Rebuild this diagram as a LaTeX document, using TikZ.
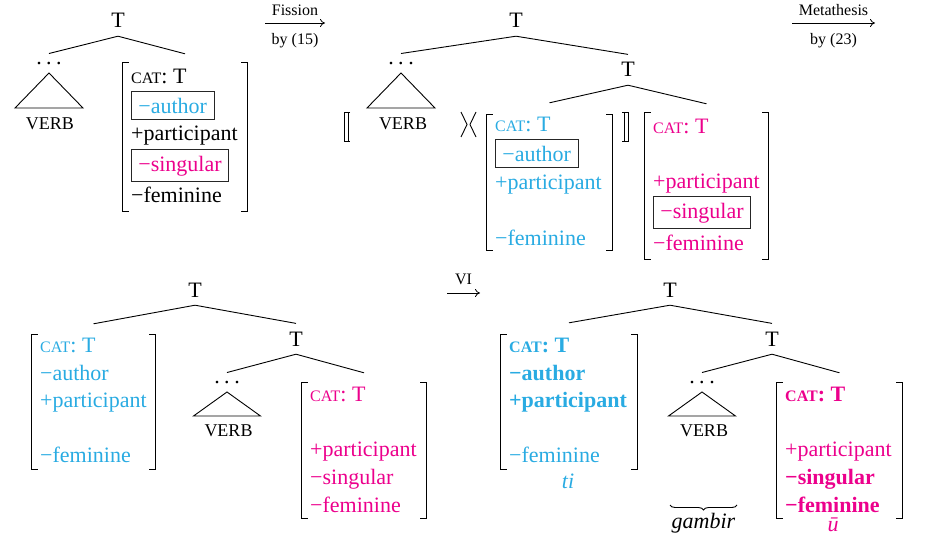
\documentclass[tikz,border=0pt]{standalone}
\usepackage{fontspec}
\setmainfont{Liberation Serif}
\usepackage{tikz}
\usetikzlibrary{arrows.meta,positioning,decorations.pathreplacing}
\definecolor{vblue}{RGB}{41,171,226}
\definecolor{vpink}{RGB}{236,0,140}
\newcommand{\bigfs}{\fontsize{22}{26}\selectfont}
\newcommand{\scfs}{\fontsize{16}{19}\selectfont}
\newcommand{\catT}{{\scfs CAT}: T}
\newcommand{\tdots}{.\kern4.5pt.\kern4.5pt.}

\begin{document}
\begin{tikzpicture}[
  x=1pt, y=-1pt,
  feat/.style={anchor=base west, inner sep=0pt, font=\bigfs},
  bfeat/.style={feat, text=vblue},
  pfeat/.style={feat, text=vpink},
  boxed/.style={draw=black!85, line width=0.8pt, inner xsep=7pt, inner ysep=6pt},
  tlabel/.style={anchor=base, inner sep=0pt, inner ysep=8pt, font=\bigfs},
  verb/.style={anchor=base, inner sep=0pt, font=\fontsize{18}{20}\selectfont},
  mat/.style={inner sep=0pt},
  brk/.style={line width=1.2pt},
  dbrk/.style={line width=0.9pt},
  edge/.style={line width=0.9pt},
  arr/.style={-{To[length=5pt,width=8pt]}, line width=0.8pt},
  note/.style={font=\scfs, inner sep=2pt}
]
\useasboundingbox (0,0) rectangle (926,535);

\coordinate (fa) at (265,23);
\coordinate (fb) at (325,23);
\draw[arr] (fa) -- node[note, above=5pt]{Fission} node[note, below=8pt]{by (15)} (fb);
\coordinate (ma) at (792,23);
\coordinate (mb) at (875,23);
\draw[arr] (ma) -- node[note, above=5pt]{Metathesis} node[note, below=8pt]{by (23)} (mb);
\coordinate (va) at (447,293);
\coordinate (vb) at (480,293);
\draw[arr] (va) -- node[note, above=6pt]{VI} (vb);

\node[tlabel] (t1) at (118,28) {T};
\node[tlabel] (d1) at (49,64) {\tdots};
\node[verb] (verb1) at (50,129) {VERB};
\node[mat, minimum width=124pt, minimum height=148pt] (m1) at (185,137) {};
\node[feat] (c1) at (131,83) {\catT};
\node[feat, boxed, text=vblue] (a1) at (131,113) {−author};
\node[feat] (p1) at (131,140) {+participant};
\node[feat, boxed, text=vpink] (s1) at (131,171) {−singular};
\node[feat] (f1) at (131,202) {−feminine};
\draw[edge] (t1.south) -- (d1.north);
\draw[edge] (t1.south) -- ([yshift=9pt]m1.north);
\draw[edge] ([yshift=-9pt]d1.base) -- ++(-34,35) -- ++(68,0) -- cycle;

\node[tlabel] (t2) at (516,28) {T};
\node[tlabel] (d2) at (401,64) {\tdots};
\node[verb] (verb2) at (403,129) {VERB};
\node[tlabel] (t2r) at (628,77) {T};
\node[mat, minimum width=125pt, minimum height=135pt] (m2) at (549.5,182.5) {};
\node[bfeat] (c2) at (495,131) {\catT};
\node[bfeat, boxed] (a2) at (495,161) {−author};
\node[bfeat] (p2) at (495,189) {+participant};
\node[bfeat] (f2) at (495,245) {−feminine};
\node[mat, minimum width=123pt, minimum height=146pt] (m3) at (706.5,186) {};
\node[pfeat] (c3) at (653,133) {\catT};
\node[pfeat] (p3) at (653,188) {+participant};
\node[pfeat, boxed] (s3) at (653,218) {−singular};
\node[pfeat] (f3) at (653,250) {−feminine};
\draw[edge] (t2.south) -- (d2.north);
\draw[edge] (t2.south) -- (t2r.north);
\draw[edge] (t2r.south) -- ([yshift=12pt]m2.north);
\draw[edge] (t2r.south) -- ([yshift=9pt]m3.north);
\draw[edge] ([yshift=-9pt]d2.base) -- ++(-34,35) -- ++(68,0) -- cycle;
\draw[dbrk] (350,112) -- (344,112) -- (344,141) -- (350,141) (348,112) -- (348,141);
\draw[dbrk] (461,112) -- (467,124.5) -- (461,137);
\draw[dbrk] (476,112) -- (470,124.5) -- (476,137);
\draw[dbrk] (622,112) -- (628,112) -- (628,141) -- (622,141) (624,112) -- (624,141);

\node[tlabel] (t3) at (195,297) {T};
\node[tlabel] (t3r) at (296,346) {T};
\node[tlabel] (d3) at (227,383) {\tdots};
\node[verb] (verb3) at (228.5,436) {VERB};
\node[mat, minimum width=123pt, minimum height=134pt] (m4) at (93.5,402) {};
\node[bfeat] (c4) at (40,352) {\catT};
\node[bfeat] (a4) at (40,380) {−author};
\node[bfeat] (p4) at (40,407) {+participant};
\node[bfeat] (f4) at (40,462) {−feminine};
\node[mat, minimum width=124pt, minimum height=135pt] (m5) at (364,450.5) {};
\node[pfeat] (c5) at (310,401) {\catT};
\node[pfeat] (p5) at (310,456) {+participant};
\node[pfeat] (s5) at (310,484) {−singular};
\node[pfeat] (f5) at (310,512) {−feminine};
\draw[edge] (t3.south) -- ([yshift=11pt]m4.north);
\draw[edge] (t3.south) -- (t3r.north);
\draw[edge] (t3r.south) -- (d3.north);
\draw[edge] (t3r.south) -- ([yshift=10pt]m5.north);
\draw[edge] ([yshift=-9pt]d3.base) -- ++(-33.5,24) -- ++(67,0) -- cycle;

\node[tlabel] (t4) at (670,297) {T};
\node[tlabel] (t4r) at (772,346) {T};
\node[tlabel] (d4) at (702,383) {\tdots};
\node[verb] (verb4) at (704,436) {VERB};
\node[mat, minimum width=136pt, minimum height=134pt] (m6) at (569,402) {};
\node[bfeat, font=\bigfs\bfseries] (c6) at (509,352) {\catT};
\node[bfeat, font=\bigfs\bfseries] (a6) at (509,380) {−author};
\node[bfeat, font=\bigfs\bfseries] (p6) at (509,407) {+participant};
\node[bfeat] (f6) at (509,462) {−feminine};
\node[anchor=base, inner sep=0pt, font=\bigfs\itshape, text=vblue] (ti) at (568,488) {ti};
\node[mat, minimum width=125pt, minimum height=135pt] (m7) at (839.5,450.5) {};
\node[pfeat, font=\bigfs\bfseries] (c7) at (785,401) {\catT};
\node[pfeat] (p7) at (785,456) {+participant};
\node[pfeat, font=\bigfs\bfseries] (s7) at (785,484) {−singular};
\node[pfeat, font=\bigfs\bfseries] (f7) at (785,512) {−feminine};
\node[anchor=base, inner sep=0pt, font=\bigfs\itshape, text=vpink] (u) at (833,531) {ū};
\coordinate (bl) at (670,505);
\coordinate (br) at (737,505);
\draw[edge, decorate, decoration={brace, mirror, amplitude=5pt}] (bl) -- (br);
\node[anchor=base, inner sep=0pt, font=\bigfs\itshape] (gambir) at (703.5,528) {gambir};
\draw[edge] (t4.south) -- ([yshift=12pt]m6.north);
\draw[edge] (t4.south) -- (t4r.north);
\draw[edge] (t4r.south) -- (d4.north);
\draw[edge] (t4r.south) -- ([yshift=10pt]m7.north);
\draw[edge] ([yshift=-9pt]d4.base) -- ++(-33.5,24) -- ++(67,0) -- cycle;

\foreach \m in {m1,m2,m3,m4,m5,m6,m7}{
  \draw[brk] ([xshift=6pt]\m.north west) -- (\m.north west) -- (\m.south west) -- ([xshift=6pt]\m.south west);
  \draw[brk] ([xshift=-6pt]\m.north east) -- (\m.north east) -- (\m.south east) -- ([xshift=-6pt]\m.south east);
}
\end{tikzpicture}
\end{document}
